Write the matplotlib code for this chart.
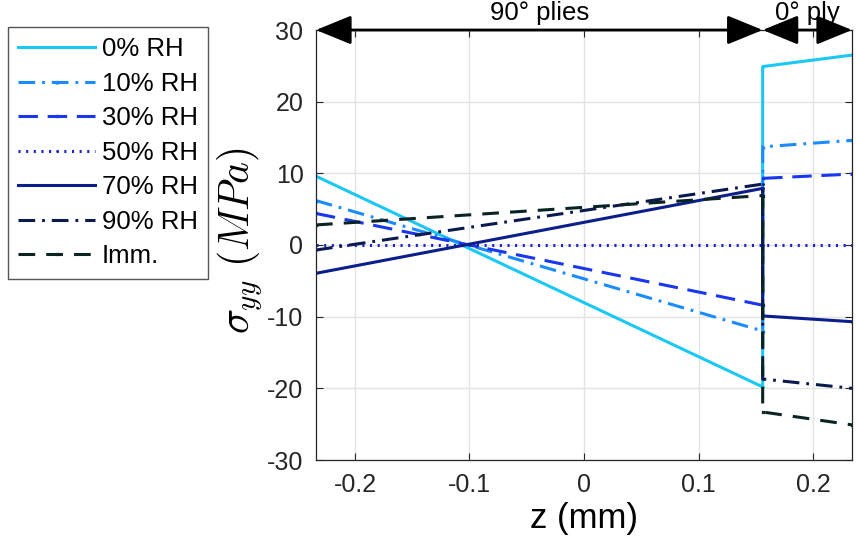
import matplotlib
matplotlib.use("Agg")
import matplotlib.pyplot as plt

# through-thickness stress, sigma_yy (MPa), for each humidity condition
# points: bottom of 90 deg plies, top of 90 deg plies, bottom of 0 deg ply, top of 0 deg ply
z_pts = [-0.234, 0.156, 0.156, 0.234]
labels = ["0% RH", "10% RH", "30% RH", "50% RH", "70% RH", "90% RH", "Imm."]
s_0 = [9.6, -19.8, 24.9, 26.5]
s_10 = [6.2, -12.0, 13.7, 14.6]
s_30 = [4.4, -8.4, 9.3, 9.9]
s_50 = [0.0, 0.0, 0.0, 0.0]
s_70 = [-3.95, 7.9, -9.9, -10.7]
s_90 = [-0.7, 8.5, -18.7, -20.0]
s_imm = [2.8, 6.9, -23.3, -25.1]

series = [s_0, s_10, s_30, s_50, s_70, s_90, s_imm]
colors = ["#1AC8F5", "#1A8CFF", "#1A36EE", "#1A24C8", "#0C1E8C", "#0A1A4E", "#0A2424"]
styles = ["-", (0, (12, 5, 2, 5)), (0, (14, 7)), (0, (1.5, 4)), "-", (0, (12, 5, 2, 5)), (0, (12, 8))]
markers = [".", "^", "s", "+", ".", ".", "x"]

plt.rcParams['font.family'] = ['Liberation Sans', 'DejaVu Sans']
plt.rcParams['mathtext.fontset'] = 'cm'
plt.rcParams['lines.scale_dashes'] = False

fig = plt.figure(figsize=(8.56, 5.56), dpi=100)
ax = fig.add_axes([316 / 856, 1 - 460 / 556, (852 - 316) / 856, (460 - 30) / 556])

for s, lab, c, ls, m in zip(series, labels, colors, styles, markers):
    ax.plot(z_pts, s, color=c, linestyle=ls, linewidth=2.2, marker=m,
            markersize=2, label=lab)

ax.set_xlim(-0.234, 0.234)
ax.set_ylim(-30, 30)
ax.set_xticks([-0.2, -0.1, 0, 0.1, 0.2])
ax.set_xticklabels(["-0.2", "-0.1", "0", "0.1", "0.2"])
ax.set_yticks([-30, -20, -10, 0, 10, 20, 30])
ax.set_yticklabels(["-30", "-20", "-10", "0", "10", "20", "30"])
ax.grid(True, color="#e3e3e3", linewidth=1.0)
ax.set_axisbelow(True)
ax.tick_params(direction="in", top=True, right=True, length=5, width=0.8,
               labelsize=18, colors="#262626", pad=9)
for sp in ax.spines.values():
    sp.set_color("#262626")
    sp.set_linewidth(0.9)

ax.set_xlabel("z (mm)", fontsize=25, labelpad=4)
ax.set_ylabel(r"$\sigma_{yy}\ (MPa)$", fontsize=30)
ax.yaxis.set_label_coords(-0.096, 0.51)

# ply region arrows along the top
arrow = dict(arrowstyle="<|-|>,head_length=1.1,head_width=0.45", color="black",
             linewidth=2.0, mutation_scale=20, shrinkA=0, shrinkB=0)
ax.annotate("", xy=(-0.234, 30), xytext=(0.156, 30), arrowprops=arrow,
            annotation_clip=False)
ax.annotate("", xy=(0.156, 30), xytext=(0.234, 30), arrowprops=arrow,
            annotation_clip=False)
ax.text((-0.234 + 0.156) / 2, 30.7, "90° plies", ha="center", va="bottom",
        fontsize=18.5, clip_on=False)
ax.text((0.156 + 0.234) / 2, 30.7, "0° ply", ha="center", va="bottom",
        fontsize=18.5, clip_on=False)

leg = fig.legend(loc="upper left", bbox_to_anchor=(8 / 856, 1 - 27 / 556),
                 fontsize=18.5, handlelength=3.0, handletextpad=0.25,
                 labelspacing=0.41, borderpad=0.4, fancybox=False,
                 framealpha=1, edgecolor="#555555", borderaxespad=0)
leg.get_frame().set_linewidth(1.0)

fig.savefig("out.png", dpi=100)
